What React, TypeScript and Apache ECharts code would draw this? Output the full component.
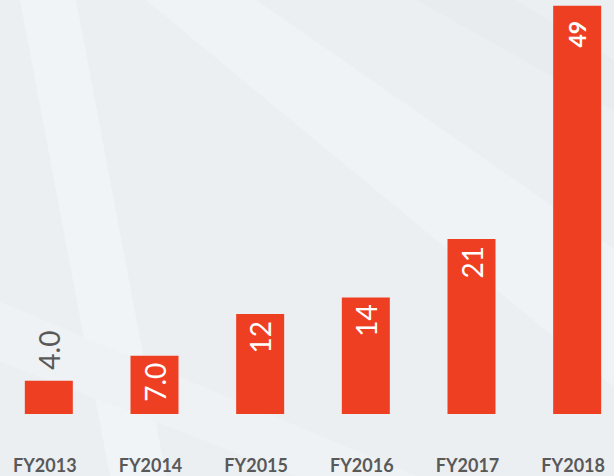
import React, { useEffect, useRef } from "react";
import * as echarts from "echarts";

const categories = ["FY2013", "FY2014", "FY2015", "FY2016", "FY2017", "FY2018"];
const values = [4.0, 7.0, 12, 14, 21, 49];
const valueLabels = ["4.0", "7.0", "12", "14", "21", "49"];

const BAR = "#EF3F23";

export default function App() {
  const ref = useRef<HTMLDivElement>(null);
  useEffect(() => {
    if (!ref.current) return;
    const chart = echarts.init(ref.current, null, { renderer: "svg" });
    const data = values.map((v, i) => {
      const label: any = {
        show: true,
        formatter: valueLabels[i],
        rotate: 90,
        fontFamily: "Lato",
        fontSize: 28,
        color: "#ffffff",
        position: "insideTop",
        distance: 8,
        align: "right",
        verticalAlign: "middle",
        offset: [1, 0],
      };
      if (i === 0) {
        Object.assign(label, {
          position: "top",
          distance: 9,
          align: "left",
          color: "#595959",
          offset: [2, 0],
        });
      }
      if (i === values.length - 1) {
        Object.assign(label, { fontSize: 23, fontWeight: "bold", distance: 17, offset: [2, 0] });
      }
      return { value: v, label };
    });
    chart.setOption({
      animation: false,
      backgroundColor: "transparent",
      graphic: [
        { type: "polygon", silent: true, z: -10, shape: { points: [[24, 0], [80, 0], [170, 476], [114, 476]] }, style: { fill: "#f1f4f6" } },
        { type: "polygon", silent: true, z: -10, shape: { points: [[150, 0], [260, 0], [634, 260], [634, 400]] }, style: { fill: "#f0f3f5" } },
        { type: "polygon", silent: true, z: -10, shape: { points: [[0, 300], [0, 360], [300, 476], [420, 476]] }, style: { fill: "#eff2f4" } },
        { type: "polygon", silent: true, z: -10, shape: { points: [[420, 0], [520, 0], [634, 70], [634, 120]] }, style: { fill: "#e9ecee" } },
      ],
      grid: { left: 0, right: 0, top: 0, bottom: 62, containLabel: false },
      xAxis: {
        type: "category",
        data: categories,
        axisLine: { show: false },
        axisTick: { show: false },
        axisLabel: {
          margin: 42,
          fontFamily: "Lato",
          fontWeight: "bold",
          fontSize: 18,
          color: "#595959",
          padding: [0, 8, 0, 0],
        },
      },
      yAxis: {
        type: "value",
        min: 0,
        max: 49.7,
        show: false,
        splitLine: { show: false },
      },
      series: [
        {
          type: "bar",
          data,
          barWidth: 48,
          itemStyle: { color: BAR },
        },
      ],
    });
    return () => chart.dispose();
  }, []);
  return (
    <div
      style={{
        position: "fixed",
        left: 0,
        top: 0,
        width: 614,
        height: 476,
        overflow: "hidden",
        background: "#eceff1",
      }}
    >
      <div
        ref={ref}
        style={{ position: "absolute", left: -4, top: 0, width: 634, height: 476 }}
      />
    </div>
  );
}
